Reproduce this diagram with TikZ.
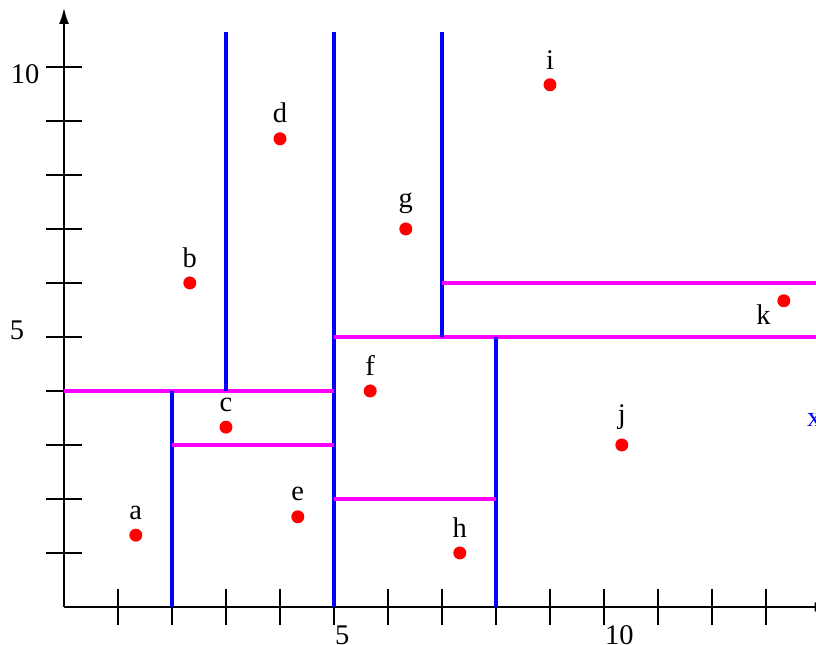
\documentclass[tikz,border=0pt]{standalone}
\usepackage{fontspec}
\setmainfont{Liberation Serif}
\usetikzlibrary{arrows.meta}
\definecolor{splitmag}{RGB}{255,0,255}
\definecolor{splitblue}{RGB}{0,0,255}
\begin{document}
\begin{tikzpicture}[>={Latex[length=0.3cm,width=0.18cm]},
  pt/.style={circle, fill=red, inner sep=0pt, minimum size=0.24cm},
  lbl/.style={font=\fontsize{15}{18}\selectfont, inner sep=1pt},
  vsplit/.style={splitblue, line width=1.7pt},
  hsplit/.style={splitmag, line width=1.7pt}]
\useasboundingbox (-1.185,-0.704) rectangle (13.926,11.24);
\clip (-1.185,-0.704) rectangle (13.926,11.24);
% Axes
\draw[->, line width=1.1pt] (0,0) -- (14.2,0);
\draw[->, line width=1.1pt] (0,0) -- (0,11.1);
\foreach \t in {1,...,13} \draw[line width=1.1pt] (\t,-0.33) -- (\t,0.33);
\foreach \t in {1,...,10} \draw[line width=1.1pt] (-0.33,\t) -- (0.33,\t);
% Tick labels
\node[lbl, anchor=north west] at (4.98,-0.3) {5};
\node[lbl, anchor=north west] at (9.98,-0.3) {10};
\node[lbl] at (-0.72,9.87) {10};
\node[lbl] at (-0.87,5.13) {5};
% Splitting lines
\draw[vsplit] (5,0) -- (5,10.65);
\draw[hsplit] (0,4) -- (5,4);
\draw[vsplit] (2,0) -- (2,4);
\draw[hsplit] (2,3) -- (5,3);
\draw[vsplit] (3,4) -- (3,10.65);
\draw[hsplit] (5,5) -- (14.2,5);
\draw[vsplit] (8,0) -- (8,5);
\draw[hsplit] (5,2) -- (8,2);
\draw[vsplit] (7,5) -- (7,10.65);
\draw[hsplit] (7,6) -- (14.2,6);
% Points
\node[pt, label={[lbl, label distance=0.12cm]above:a}] (a) at (1.33,1.33) {};
\node[pt, label={[lbl, label distance=0.12cm]above:b}] (b) at (2.33,6) {};
\node[pt, label={[lbl, label distance=0.12cm]above:c}] (c) at (3,3.33) {};
\node[pt, label={[lbl, label distance=0.12cm]above:d}] (d) at (4,8.67) {};
\node[pt, label={[lbl, label distance=0.12cm]above:e}] (e) at (4.33,1.67) {};
\node[pt, label={[lbl, label distance=0.12cm]above:f}] (f) at (5.67,4) {};
\node[pt, label={[lbl, label distance=0.12cm]above:g}] (g) at (6.33,7) {};
\node[pt, label={[lbl, label distance=0.12cm]above:h}] (h) at (7.33,1) {};
\node[pt, label={[lbl, label distance=0.12cm]above:i}] (i) at (9,9.67) {};
\node[pt, label={[lbl, label distance=0.12cm]above:j}] (j) at (10.33,3) {};
\node[pt, label={[lbl, label distance=0.08cm]190:k}] (k) at (13.33,5.67) {};
% Axis name at the right border
\node[lbl, splitblue, anchor=west] (xlab) at (13.72,3.46) {x};
\end{tikzpicture}
\end{document}
